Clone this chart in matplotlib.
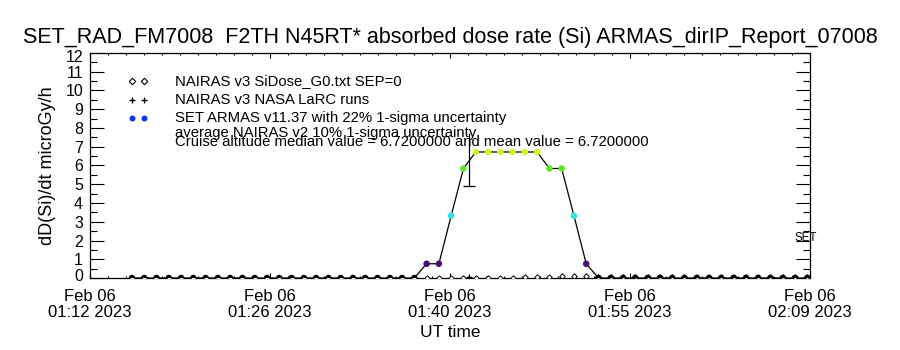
import numpy as np
import matplotlib
matplotlib.use("Agg")
import matplotlib.pyplot as plt
import matplotlib.transforms as mtrans
from matplotlib.colors import ListedColormap, BoundaryNorm
from matplotlib.ticker import FixedLocator, MultipleLocator

plt.rcParams['font.family'] = ['Liberation Sans', 'DejaVu Sans']

# ---- data (time in minutes after 00:00 UT, Feb 06 2023) ----
x_start = 72.0     # 01:12
x_end = 129.0      # 02:09
x_tick_labels = ["Feb 06\n01:12 2023", "Feb 06\n01:26 2023", "Feb 06\n01:40 2023",
                 "Feb 06\n01:55 2023", "Feb 06\n02:09 2023"]
y_tick_labels = ["0", "1", "2", "3", "4", "5", "6", "7", "8", "9", "10", "11", "12"]

t_first = 75.32    # first ARMAS sample
t_step = 0.972     # sample spacing (min)

armas_dose = [0.0, 0.0, 0.0, 0.0, 0.0, 0.0, 0.0, 0.0, 0.0, 0.0,
              0.0, 0.0, 0.0, 0.0, 0.0, 0.0, 0.0, 0.0, 0.0, 0.0,
              0.0, 0.0, 0.0, 0.0, 0.76, 0.76, 3.32, 5.84, 6.72, 6.72,
              6.72, 6.72, 6.72, 6.72, 5.84, 5.84, 3.32, 0.76, 0.0, 0.0,
              0.0, 0.0, 0.0, 0.0, 0.0, 0.0, 0.0, 0.0, 0.0, 0.0,
              0.0, 0.0, 0.0, 0.0, 0.0, 0.0]

nairas_dose = [0.0, 0.0, 0.0, 0.0, 0.0, 0.0, 0.0, 0.0, 0.0, 0.0,
               0.0, 0.0, 0.0, 0.0, 0.0, 0.0, 0.0, 0.0, 0.0, 0.0,
               0.0, 0.0, 0.0, 0.0, 0.0, 0.0, 0.0, 0.0, 0.0, 0.0,
               0.0, 0.0, 0.03, 0.03, 0.08, 0.1, 0.1, 0.1, 0.08, 0.08,
               0.08, 0.08, 0.08, 0.08, 0.08, 0.08, 0.06, 0.06, 0.06, 0.06,
               0.03, 0.03, 0.03, 0.03, 0.03, 0.03]

larc_time = [102.03, 115.03]
larc_dose = [0.03, 0.05]

err_time = [102.03]
err_center = [6.32]
err_half = [1.40]

set_label_y = 2.0

legend_lines = ["NAIRAS v3 SiDose_G0.txt SEP=0",
                "NAIRAS v3 NASA LaRC runs",
                "SET ARMAS v11.37 with 22% 1-sigma uncertainty"]
note_lines = ["average NAIRAS v2 10% 1-sigma uncertainty",
              "Cruise altitude median value = 6.7200000 and mean value = 6.7200000"]
title = "SET_RAD_FM7008  F2TH N45RT* absorbed dose rate (Si) ARMAS_dirIP_Report_07008"

# ---- figure ----
fig = plt.figure(figsize=(9, 3.5), dpi=100)
ax = fig.add_axes([0.1, 0.2057, 0.8, 0.6429])

times = t_first + t_step * np.arange(len(armas_dose))

# value-coloured ARMAS points
cmap = ListedColormap(["#000000", "#4a0f6e", "#2ee0e0", "#5ee62a", "#d6f02c"])
norm = BoundaryNorm([-1, 0.3, 2.0, 4.5, 6.3, 20], cmap.N)

ax.plot(times, armas_dose, color="black", lw=0.9, zorder=3)
ax.plot(times, nairas_dose, linestyle="none", marker="D", markersize=2.8,
        markerfacecolor="white", markeredgecolor="black", markeredgewidth=0.7, zorder=4)
ax.scatter(times, armas_dose, c=armas_dose, cmap=cmap, norm=norm, s=22,
           edgecolors="none", zorder=5)
ax.plot(larc_time, larc_dose, linestyle="none", marker="+", markersize=5,
        color="black", markeredgewidth=1.0, zorder=4)
# uncertainty bar (cap only at the lower end, as in the reference)
ax.errorbar(err_time, err_center, yerr=err_half, fmt="none", ecolor="black",
            elinewidth=0.9, capsize=0, zorder=4)
ax.plot(err_time, np.array(err_center) - np.array(err_half), linestyle="none",
        marker="_", markersize=8, markeredgewidth=0.9, color="black", zorder=4)

ax.set_xlim(x_start, x_end)
ax.set_ylim(0, 12)

ax.xaxis.set_major_locator(FixedLocator(np.linspace(x_start, x_end, len(x_tick_labels))))
ax.set_xticklabels(x_tick_labels, fontsize=12, linespacing=1.05)
ax.xaxis.set_minor_locator(FixedLocator(np.linspace(x_start, x_end, 41)))
ax.yaxis.set_major_locator(FixedLocator(np.arange(len(y_tick_labels))))
ylabels = ax.set_yticklabels(y_tick_labels, fontsize=11.5)
ax.yaxis.set_minor_locator(MultipleLocator(0.5))

ax.tick_params(axis="x", which="major", direction="in", length=3.3, width=0.8,
               top=True, bottom=True, pad=8)
ax.tick_params(axis="x", which="minor", direction="in", length=1.6, width=0.8,
               top=True, bottom=True)
ax.tick_params(axis="y", which="major", direction="in", length=10, width=0.8,
               left=True, right=True, pad=5)
ax.tick_params(axis="y", which="minor", direction="in", length=5, width=0.8,
               left=True, right=True)
for sp in ax.spines.values():
    sp.set_linewidth(0.9)

# end labels nudged inward a little, as in the reference
ylabels[-1].set_transform(ylabels[-1].get_transform() +
                          mtrans.ScaledTranslation(0, -2.5 / 72, fig.dpi_scale_trans))
ylabels[0].set_transform(ylabels[0].get_transform() +
                         mtrans.ScaledTranslation(0, 2.0 / 72, fig.dpi_scale_trans))

ax.set_xlabel("UT time", fontsize=12.5, labelpad=4)
ax.set_ylabel("dD(Si)/dt microGy/h", fontsize=13)
ax.yaxis.set_label_coords(-0.047, 0.5)

# key
key_colors = ["black", "black", "#1034e8"]
key_markers = ["D", "+", "o"]
key_y = [0.8578, 0.7733, 0.692]
for lbl, mk, col, yy in zip(legend_lines, key_markers, key_colors, key_y):
    if mk == "D":
        kw = dict(markerfacecolor="white", markeredgecolor="black",
                  markeredgewidth=0.8, markersize=3.3)
    else:
        kw = dict(color=col, markersize=5 if mk == "+" else 4.3,
                  markeredgewidth=1.0 if mk == "+" else 0)
    ax.plot([0.0579, 0.075], [yy + 0.018] * 2, linestyle="none", marker=mk,
            transform=ax.transAxes, clip_on=False, **kw)
    ax.text(0.118, yy, lbl, transform=ax.transAxes, fontsize=10.7, va="baseline")
for lbl, yy in zip(note_lines, [0.628, 0.5867]):
    ax.text(0.118, yy, lbl, transform=ax.transAxes, fontsize=10.7, va="baseline")

ax.text(0.979, set_label_y, "SET", transform=ax.get_yaxis_transform(), fontsize=8.3,
        va="baseline", ha="left")

fig.text(0.5, 0.876, title, ha="center", va="baseline", fontsize=15.5)

fig.savefig("out.png", dpi=100)
